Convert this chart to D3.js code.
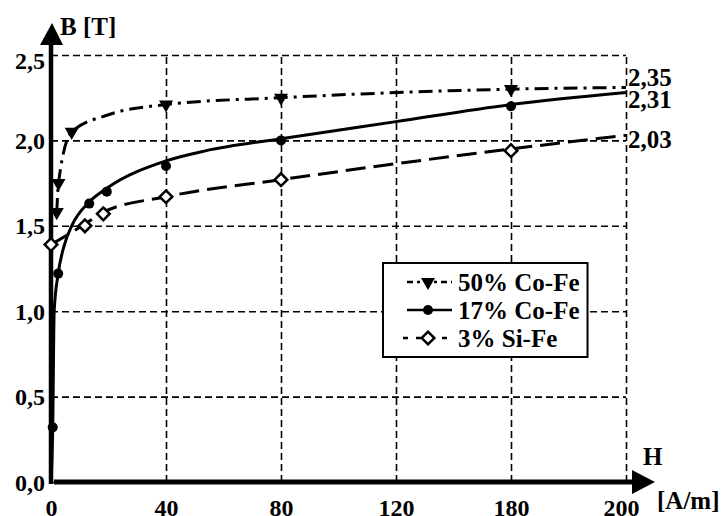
<!DOCTYPE html>
<html>
<head>
<meta charset="utf-8">
<script src="https://cdn.jsdelivr.net/npm/d3@7"></script>
<style>
  body { margin: 0; background: #fff; }
  text { font-family: "Liberation Serif", "Times New Roman", serif; font-weight: bold; fill: #000; }
</style>
</head>
<body>
<div class="container"></div>
<script>
const w = 723
const h = 516

// axis ticks (H ticks are spaced evenly on the original drawing)
const hTicks = [0, 40, 80, 120, 180, 200]
const bTicks = [0, 0.5, 1.0, 1.5, 2.0, 2.5]

// 50% Co-Fe
const coFe50H = [2.0, 2.6, 7.2, 40, 80, 180]
const coFe50B = [1.58, 1.75, 2.05, 2.21, 2.25, 2.30]
const coFe50CurveH = [2.0, 2.6, 7.2, 20, 40, 80, 180, 200]
const coFe50CurveB = [1.58, 1.75, 2.05, 2.15, 2.21, 2.25, 2.30, 2.31]

// 17% Co-Fe
const coFe17H = [0.6, 2.5, 13.3, 19.4, 40, 80, 180]
const coFe17B = [0.32, 1.22, 1.63, 1.70, 1.85, 2.00, 2.20]
const coFe17CurveH = [0, 0.6, 1.1, 2.5, 4.5, 7.2, 13.3, 19.4, 40, 54, 80, 120, 180, 200]
const coFe17CurveB = [0, 0.32, 1.0, 1.22, 1.38, 1.50, 1.64, 1.72, 1.88, 1.94, 2.01, 2.11, 2.21, 2.28]

// 3% Si-Fe
const siFeH = [0, 11.8, 18.2, 40, 80, 180]
const siFeB = [1.39, 1.50, 1.57, 1.67, 1.77, 1.94]
const siFeCurveH = [0, 11.8, 18.2, 40, 80, 180, 200]
const siFeCurveB = [1.39, 1.51, 1.58, 1.67, 1.77, 1.95, 2.03]

const endLabels = ["2,35", "2,31", "2,03"]
const seriesNames = ["50% Co-Fe", "17% Co-Fe", "3% Si-Fe"]

const plotLeft = 51, plotRight = 626, plotTop = 55, plotBottom = 482

const xScale = d3.scaleLinear()
                 .domain(hTicks)
                 .range(hTicks.map((d, i) => plotLeft + i * (plotRight - plotLeft) / (hTicks.length - 1)))

const yScale = d3.scaleLinear()
                 .domain([0, 2.5])
                 .range([plotBottom, plotTop])

const comma = d3.formatLocale({decimal: ",", thousands: ".", grouping: [3], currency: ["", ""]}).format(".1f")

const svg = d3.select(".container")
              .append("svg")
              .attr("width", w)
              .attr("height", h)

const zip = (xs, ys) => xs.map((x, i) => [x, ys[i]])

// grid + ticks
const yAxis = d3.axisLeft(yScale)
                .tickValues(bTicks)
                .tickFormat(comma)
                .tickSize(-(plotRight - plotLeft))
                .tickPadding(6)

const xAxis = d3.axisBottom(xScale)
                .tickValues(hTicks)
                .tickFormat(d3.format("d"))
                .tickSize(-(plotBottom - plotTop))
                .tickPadding(17)

const gy = svg.append("g")
              .attr("transform", `translate(${plotLeft}, 0)`)
              .call(yAxis)
gy.select(".domain").remove()
gy.selectAll("line").attr("stroke", "#000").attr("stroke-width", 1.6).attr("stroke-dasharray", "7,4")
gy.selectAll("text")
  .attr("font-size", 24)
  .attr("font-family", null)
  .attr("dy", d => d == 2.5 ? "0.55em" : "0.34em")

const gx = svg.append("g")
              .attr("transform", `translate(0, ${plotBottom})`)
              .call(xAxis)
gx.select(".domain").remove()
gx.selectAll("line").attr("stroke", "#000").attr("stroke-width", 1.6).attr("stroke-dasharray", "7,4")
gx.selectAll("text")
  .attr("font-size", 24)
  .attr("font-family", null)
  .attr("dx", d => d == 200 ? -5 : 0)

// thick axes with arrows
svg.append("line")
   .attr("x1", plotLeft).attr("y1", plotBottom + 2)
   .attr("x2", plotLeft).attr("y2", plotTop - 12)
   .attr("stroke", "#000").attr("stroke-width", 4.5)
svg.append("path")
   .attr("d", `M${plotLeft - 11},${plotTop - 10}L${plotLeft + 1},${plotTop - 32}L${plotLeft + 12},${plotTop - 10}Z`)
svg.append("line")
   .attr("x1", plotLeft + 3).attr("y1", plotBottom)
   .attr("x2", plotRight + 8).attr("y2", plotBottom)
   .attr("stroke", "#000").attr("stroke-width", 5)
svg.append("path")
   .attr("d", `M${plotRight + 6},${plotBottom - 12}L${plotRight + 29},${plotBottom}L${plotRight + 6},${plotBottom + 12}Z`)

// curves
const line = d3.line()
               .x(d => xScale(d[0]))
               .y(d => yScale(d[1]))
               .curve(d3.curveMonotoneX)

const dash50 = "14,6,3,6"
const dashSi = "20,8"

svg.append("path")
   .attr("d", line(zip(siFeCurveH, siFeCurveB)))
   .attr("fill", "none").attr("stroke", "#000").attr("stroke-width", 3)
   .attr("stroke-dasharray", dashSi)
svg.append("path")
   .attr("d", line(zip(coFe17CurveH, coFe17CurveB)))
   .attr("fill", "none").attr("stroke", "#000").attr("stroke-width", 3)
svg.append("path")
   .attr("d", line(zip(coFe50CurveH, coFe50CurveB)))
   .attr("fill", "none").attr("stroke", "#000").attr("stroke-width", 3)
   .attr("stroke-dasharray", dash50)

// markers
const tri = d3.symbol().type(d3.symbolTriangle).size(85)
const dia = d3.symbol().type(d3.symbolSquare).size(80)

svg.append("g").selectAll("path")
   .data(zip(coFe50H, coFe50B))
   .join("path")
   .attr("d", tri)
   .attr("transform", d => `translate(${xScale(d[0])}, ${yScale(d[1])}) rotate(180)`)
   .attr("fill", "#000")

svg.append("g").selectAll("circle")
   .data(zip(coFe17H, coFe17B))
   .join("circle")
   .attr("cx", d => xScale(d[0]))
   .attr("cy", d => yScale(d[1]))
   .attr("r", 5)
   .attr("fill", "#000")

svg.append("g").selectAll("path")
   .data(zip(siFeH, siFeB))
   .join("path")
   .attr("d", dia)
   .attr("transform", d => `translate(${xScale(d[0])}, ${yScale(d[1])}) rotate(45)`)
   .attr("fill", "#fff").attr("stroke", "#000").attr("stroke-width", 2.5)

// end labels
const endY = [86, 108, 148]
svg.append("g").selectAll("text")
   .data(endLabels)
   .join("text")
   .attr("x", plotRight + 2)
   .attr("y", (d, i) => endY[i])
   .attr("font-size", 25)
   .text(d => d)

// axis titles
svg.append("text").attr("x", 60).attr("y", 35).attr("font-size", 25).text("B [T]")
svg.append("text").attr("x", 643).attr("y", 465).attr("font-size", 25).text("H")
svg.append("text").attr("x", 657).attr("y", 509).attr("font-size", 25).text("[A/m]")

// legend
const legend = svg.append("g").attr("transform", "translate(383, 263)")
const box = legend.append("rect")
                  .attr("width", 200).attr("height", 94)
                  .attr("fill", "#fff").attr("stroke", "#000").attr("stroke-width", 2)
const rowY = [19, 47, 75]
const rows = legend.selectAll("g.row")
                   .data(seriesNames)
                   .join("g")
                   .attr("class", "row")
                   .attr("transform", (d, i) => `translate(0, ${rowY[i]})`)
rows.append("line")
    .attr("x1", (d, i) => i == 2 ? 20 : 24).attr("x2", 69)
    .attr("stroke", "#000").attr("stroke-width", 2.5)
    .attr("stroke-dasharray", (d, i) => i == 0 ? "6,4,3,4" : i == 2 ? "5,8" : null)
rows.append("text")
    .attr("x", 75).attr("y", 9)
    .attr("font-size", 25)
    .text(d => d)
rows.filter((d, i) => i == 0).append("path").attr("d", tri).attr("transform", "translate(45, 0) rotate(180)")
rows.filter((d, i) => i == 1).append("circle").attr("cx", 45).attr("r", 5)
rows.filter((d, i) => i == 2).append("path").attr("d", dia)
    .attr("transform", "translate(45, 0) rotate(45)")
    .attr("fill", "#fff").attr("stroke", "#000").attr("stroke-width", 2.5)

let maxLen = 0
rows.selectAll("text").each(function() { maxLen = Math.max(maxLen, this.getComputedTextLength()) })
box.attr("width", 75 + maxLen + 8)
</script>
</body>
</html>
